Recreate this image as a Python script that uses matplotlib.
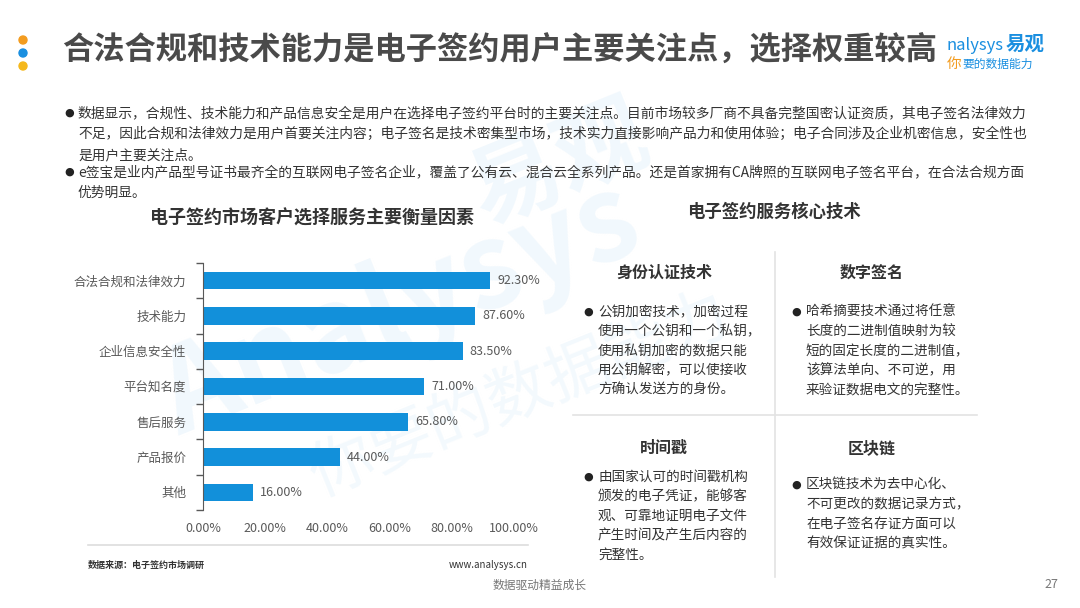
import matplotlib
matplotlib.use("Agg")
import matplotlib.pyplot as plt
from matplotlib.patches import Ellipse

plt.rcParams['font.family'] = ['Noto Sans CJK SC', 'DejaVu Sans']

# chart data
categories = ['合法合规和法律效力', '技术能力', '企业信息安全性', '平台知名度',
              '售后服务', '产品报价', '其他']
values = [92.3, 87.6, 83.5, 71.0, 65.8, 44.0, 16.0]
x_ticks = [0, 20, 40, 60, 80, 100]

title = '合法合规和技术能力是电子签约用户主要关注点，选择权重较高'
chart_title = '电子签约市场客户选择服务主要衡量因素'
right_title = '电子签约服务核心技术'

intro_lines = [
    '数据显示，合规性、技术能力和产品信息安全是用户在选择电子签约平台时的主要关注点。目前市场较多厂商不具备完整国密认证资质，其电子签名法律效力',
    '不足，因此合规和法律效力是用户首要关注内容；电子签名是技术密集型市场，技术实力直接影响产品力和使用体验；电子合同涉及企业机密信息，安全性也',
    '是用户主要关注点。',
    'e签宝是业内产品型号证书最齐全的互联网电子签名企业，覆盖了公有云、混合云全系列产品。还是首家拥有CA牌照的互联网电子签名平台，在合法合规方面',
    '优势明显。',
]
intro_bullets = [0, 3]

quad_titles = ['身份认证技术', '数字签名', '时间戳', '区块链']
quad_texts = [
    ['公钥加密技术，加密过程', '使用一个公钥和一个私钥，', '使用私钥加密的数据只能',
     '用公钥解密，可以使接收', '方确认发送方的身份。'],
    ['哈希摘要技术通过将任意', '长度的二进制值映射为较', '短的固定长度的二进制值，',
     '该算法单向、不可逆，用', '来验证数据电文的完整性。'],
    ['由国家认可的时间戳机构', '颁发的电子凭证，能够客', '观、可靠地证明电子文件',
     '产生时间及产生后内容的', '完整性。'],
    ['区块链技术为去中心化、', '不可更改的数据记录方式，', '在电子签名存证方面可以',
     '有效保证证据的真实性。'],
]

W, H = 1080, 608
BAR = '#1290da'
GRAY = '#595959'
TXT = '#333333'


def fx(x):
    return x / W


def fy(y):
    return 1 - y / H


fig = plt.figure(figsize=(W / 100, H / 100), dpi=100)
fig.patch.set_facecolor('white')

# faint watermark (drawn behind everything)
fig.text(fx(400), fy(310), 'Analysys', fontsize=84, color='#f1f8fd', rotation=22,
         style='italic', weight='bold', ha='center', va='center', zorder=-5)
fig.text(fx(560), fy(165), '易观', fontsize=66, color='#f1f8fd', rotation=22,
         weight='bold', ha='center', va='center', zorder=-5)
fig.text(fx(520), fy(395), '你要的数据能力', fontsize=46, color='#f3f9fd', rotation=22,
         style='italic', ha='center', va='center', zorder=-5)

# header dots + title
for yy, c in zip([40, 53, 66], ['#f39c1f', '#1a8fe0', '#f5b81c']):
    fig.patches.append(Ellipse((fx(23), fy(yy)), 8 / W, 8 / H, transform=fig.transFigure,
                               color=c, figure=fig))
fig.text(fx(62), fy(50), title, fontsize=22.5, weight='bold', color='#4a4a4a',
         va='center', ha='left')

# logo
fig.text(fx(947), fy(45), 'nalysys', fontsize=12, color='#1a8fe0', va='center',
         style='italic')
fig.text(fx(1006), fy(44), '易观', fontsize=14, color='#1a8fe0', va='center', weight='bold')
fig.text(fx(947), fy(64), '你', fontsize=10.5, color='#f39c1f', va='center', style='italic')
fig.text(fx(962), fy(64), '要的数据能力', fontsize=8.5, color='#1a8fe0', va='center',
         style='italic')

# intro paragraph
for i, (line, yy) in enumerate(zip(intro_lines, [113, 134, 155, 172, 193])):
    if i in intro_bullets:
        fig.text(fx(64), fy(yy), '●', fontsize=8, color='#222222', va='center',
                 family='DejaVu Sans')
    fig.text(fx(78), fy(yy), line, fontsize=9.9, color=TXT, va='center')

# bar chart
fig.text(fx(312), fy(218), chart_title, fontsize=13, weight='bold', color='#333333',
         ha='center', va='center')
ax = fig.add_axes([fx(203), fy(510), (514 - 203) / W, (510 - 263) / H])
ax.set_facecolor('none')
pos = list(range(len(categories)))
ax.barh(pos, values, height=0.5, color=BAR)
for p, v in zip(pos, values):
    ax.text(v + 2.3, p, f'{v:.2f}%', va='center', ha='left', fontsize=9, color=GRAY)
ax.set_xlim(0, 100)
ax.set_ylim(len(categories) - 0.5, -0.5)
ax.set_yticks(pos)
ax.set_yticklabels(categories, fontsize=9, color=GRAY)
ax.set_yticks([p - 0.5 for p in pos] + [len(pos) - 0.5], minor=True)
ax.tick_params(axis='y', which='major', length=0, pad=12)
ax.tick_params(axis='y', which='minor', length=5, color=GRAY, width=1)
ax.set_xticks(x_ticks)
ax.set_xticklabels([f'{t:.2f}%' for t in x_ticks], fontsize=9, color=GRAY)
ax.tick_params(axis='x', length=0, pad=9)
for s in ['top', 'right', 'bottom']:
    ax.spines[s].set_visible(False)
ax.spines['left'].set_color(GRAY)

# source line
fig.add_artist(plt.Line2D([fx(88), fx(528)], [fy(545), fy(545)], color='#dddddd', lw=1.2))
fig.text(fx(88), fy(565), '数据来源：电子签约市场调研', fontsize=6.5, color='#333333',
         va='center', weight='bold')
fig.text(fx(528), fy(565), 'www.analysys.cn', fontsize=7, color='#333333',
         va='center', ha='right')

# right panel
fig.text(fx(774), fy(212), right_title, fontsize=12.5, weight='bold', color='#333333',
         ha='center', va='center')
fig.add_artist(plt.Line2D([fx(775), fx(775)], [fy(252), fy(577)], color='#e3e3e3', lw=1.2))
fig.add_artist(plt.Line2D([fx(573), fx(977)], [fy(415), fy(415)], color='#e3e3e3', lw=1.2))

quad_cx = [664, 872, 664, 872]
quad_ty = [273, 273, 448, 448]
quad_bx = [587, 795, 587, 795]
quad_y0 = [312, 312, 477, 485]
for k in range(4):
    fig.text(fx(quad_cx[k]), fy(quad_ty[k]), quad_titles[k], fontsize=11.5, weight='bold',
             color='#333333', ha='center', va='center')
    fig.text(fx(quad_bx[k] - 4), fy(quad_y0[k]), '●', fontsize=8, color='#222222',
             va='center', family='DejaVu Sans')
    for j, line in enumerate(quad_texts[k]):
        fig.text(fx(quad_bx[k] + 11), fy(quad_y0[k] + j * 19.5), line, fontsize=9.8,
                 color=TXT, va='center')

# footer
fig.text(fx(540), fy(585), '数据驱动精益成长', fontsize=8.5, color='#777777',
         ha='center', va='center')
fig.text(fx(1058), fy(584), '27', fontsize=9, color='#777777', ha='right', va='center')

fig.savefig('out.png', dpi=100, facecolor='white')
